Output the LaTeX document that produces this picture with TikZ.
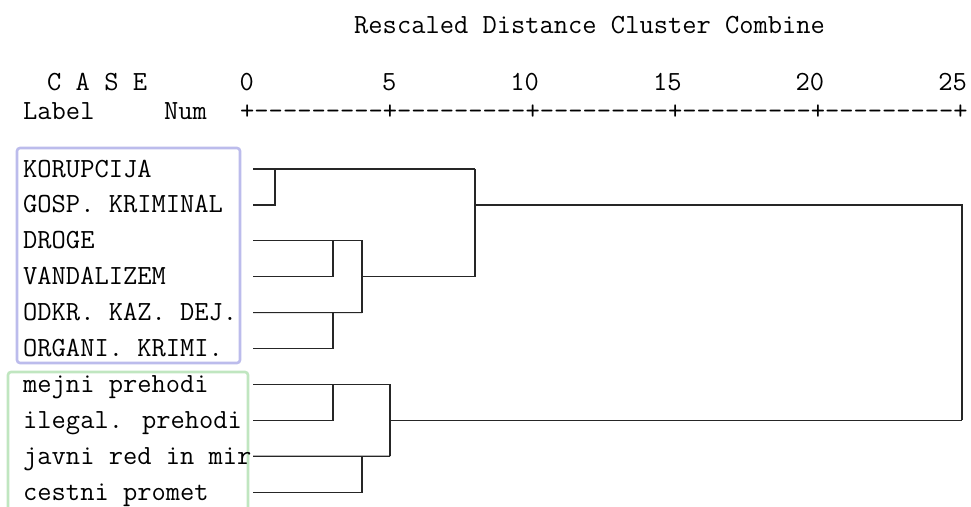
\documentclass[tikz,border=0pt]{standalone}
\usepackage{fontspec}
\definecolor{boxblue}{RGB}{188,188,236}
\definecolor{boxgreen}{RGB}{192,230,192}
\tikzset{
  txt/.style = {anchor = base west, inner sep = 0pt, font = \ttfamily\fontsize{27.7}{30}\selectfont},
  num/.style = {anchor = base east, inner sep = 0pt, font = \ttfamily\fontsize{27.7}{30}\selectfont},
  link/.style = {line width = 1.2pt, color = black!85},
  group/.style = {line width = 2.6pt, rounded corners = 3pt}
}
\begin{document}
\begin{tikzpicture}[x = 1pt, y = -1pt]
        \useasboundingbox (0, 0) rectangle (971, 506);
        \draw[group, color = boxblue] (17, 148) rectangle (240, 363);
        \draw[group, color = boxgreen] (8, 372) rectangle (248, 530);
        \node[txt] (title) at (354, 33) {Rescaled Distance Cluster Combine};
        \node[txt] (case) at (47, 90) {C A S E};
        \node[txt] (label) at (23, 119) {Label};
        \node[txt] (num) at (164, 119) {Num};
        \node[txt] (axis) at (240, 119) {+---------+---------+---------+---------+---------+};
        \foreach \v [count = \i from 0] in {0, 5, 10, 15, 20, 25}
            \node[num] (t\i) at (254 + 142.6*\i, 90) {\v};
        \foreach \name/\text [count = \i from 0] in {korupcija/KORUPCIJA, gosp/GOSP. KRIMINAL, droge/DROGE, vandal/VANDALIZEM, odkr/ODKR. KAZ. DEJ., organi/ORGANI. KRIMI., mejni/mejni prehodi, ilegal/ilegal. prehodi, javni/javni red in mir, cestni/cestni promet} {
            \node[txt] (\name) at (23, 177 + 35.9*\i) {\text};
            \coordinate (a\i) at (253, 169 + 35.9*\i);
        }
        \coordinate (j1) at (275, 169);
        \coordinate (j2) at (333, 240.8);
        \coordinate (j3) at (333, 312.6);
        \coordinate (j4) at (362, 312.6);
        \coordinate (j5) at (362, 276.7);
        \coordinate (c1) at (475, 169);
        \coordinate (c2) at (475, 204.9);
        \coordinate (j6) at (333, 384.4);
        \coordinate (j7) at (390, 456.2);
        \coordinate (j8) at (362, 456.2);
        \coordinate (c3) at (390, 420.3);
        \coordinate (root) at (962, 420.3);
        \draw[link] (a0) -- (c1);
        \draw[link] (a1) -| (j1);
        \draw[link] (a3) -| (j2);
        \draw[link] (a5) -| (j3);
        \draw[link] (a2) -| (j4);
        \draw[link] (a4) -- (j4);
        \draw[link] (j5) -| (c1);
        \draw[link] (c2) -| (root);
        \draw[link] (a7) -| (j6);
        \draw[link] (a6) -| (j7);
        \draw[link] (a8) -- (j7);
        \draw[link] (a9) -| (j8);
        \draw[link] (c3) -- (root);
    \end{tikzpicture}
\end{document}
